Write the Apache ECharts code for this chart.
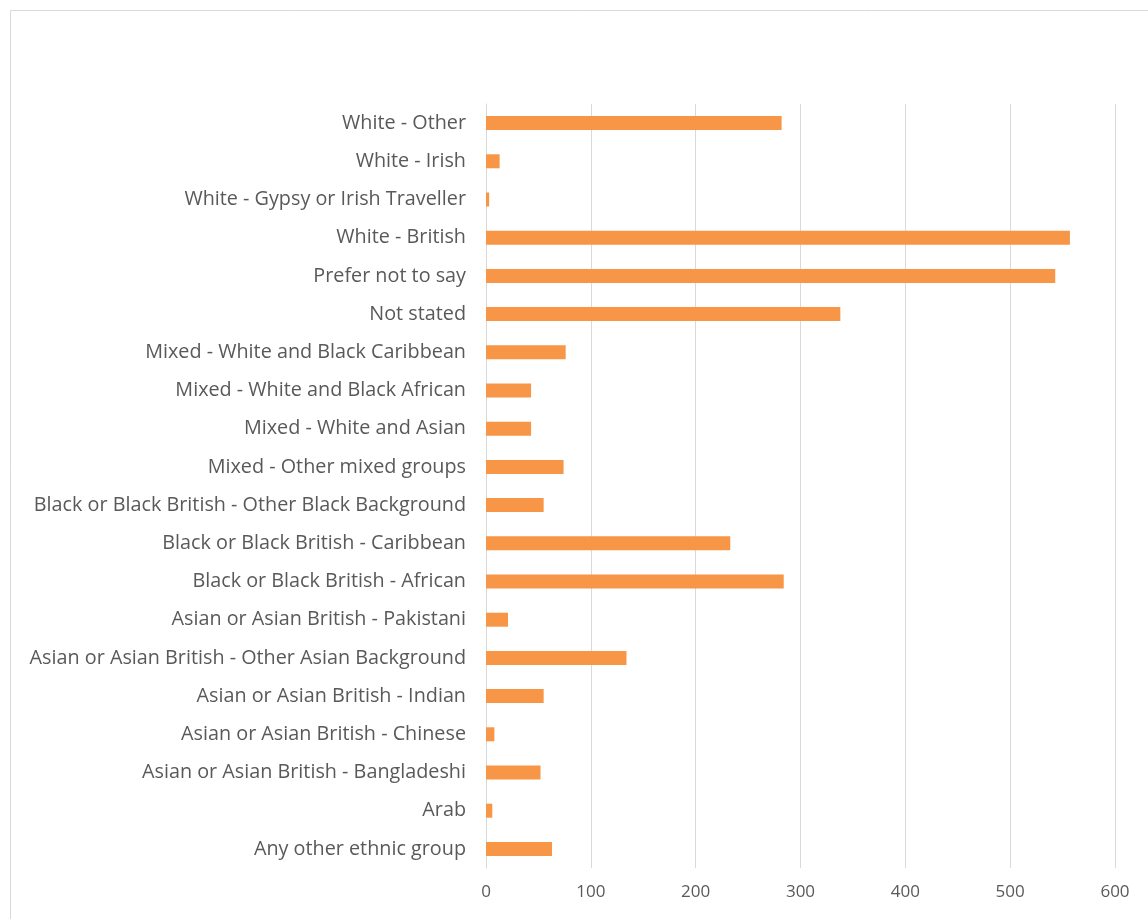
<!DOCTYPE html>
<html>
<head>
<meta charset="utf-8">
<script src="https://cdn.jsdelivr.net/npm/echarts@6/dist/echarts.min.js"></script>
<style>html,body{margin:0;padding:0;background:#fff;}#c{width:1148px;height:919px;}</style>
</head>
<body>
<div id="c"></div>
<script>
const categories = [
  "Any other ethnic group",
  "Arab",
  "Asian or Asian British - Bangladeshi",
  "Asian or Asian British - Chinese",
  "Asian or Asian British - Indian",
  "Asian or Asian British - Other Asian Background",
  "Asian or Asian British - Pakistani",
  "Black or Black British - African",
  "Black or Black British - Caribbean",
  "Black or Black British - Other Black Background",
  "Mixed - Other mixed groups",
  "Mixed - White and Asian",
  "Mixed - White and Black African",
  "Mixed - White and Black Caribbean",
  "Not stated",
  "Prefer not to say",
  "White - British",
  "White - Gypsy or Irish Traveller",
  "White - Irish",
  "White - Other"
];
const values = [63, 6, 52, 8, 55, 134, 21, 284, 233, 55, 74, 43, 43, 76, 338, 543, 557, 3, 13, 282];
const xTicks = { min: 0, max: 600, interval: 100 };

const chart = echarts.init(document.getElementById('c'));
chart.setOption({
  animation: false,
  backgroundColor: '#ffffff',
  graphic: [{
    type: 'rect',
    shape: { x: 10.5, y: 10.5, width: 1200, height: 1000 },
    style: { fill: 'none', stroke: '#d9d9d9', lineWidth: 1 },
    silent: true
  }],
  grid: { left: 486, right: 33, top: 104, bottom: 51, containLabel: false },
  xAxis: {
    type: 'value',
    min: xTicks.min, max: xTicks.max, interval: xTicks.interval,
    axisLine: { show: false },
    axisTick: { show: false },
    splitLine: { show: true, lineStyle: { color: '#d9d9d9', width: 1 } },
    axisLabel: { color: '#595959', fontSize: 17, fontFamily: '"Open Sans", sans-serif', margin: 16 }
  },
  yAxis: {
    type: 'category',
    data: categories,
    axisLine: { show: true, lineStyle: { color: '#d9d9d9', width: 1 } },
    axisTick: { show: false },
    axisLabel: { color: '#595959', fontSize: 19.8, fontFamily: '"Open Sans", sans-serif', margin: 20 }
  },
  series: [{
    type: 'bar',
    data: values,
    barWidth: 14,
    itemStyle: { color: '#F79646' }
  }]
});
</script>
</body>
</html>
